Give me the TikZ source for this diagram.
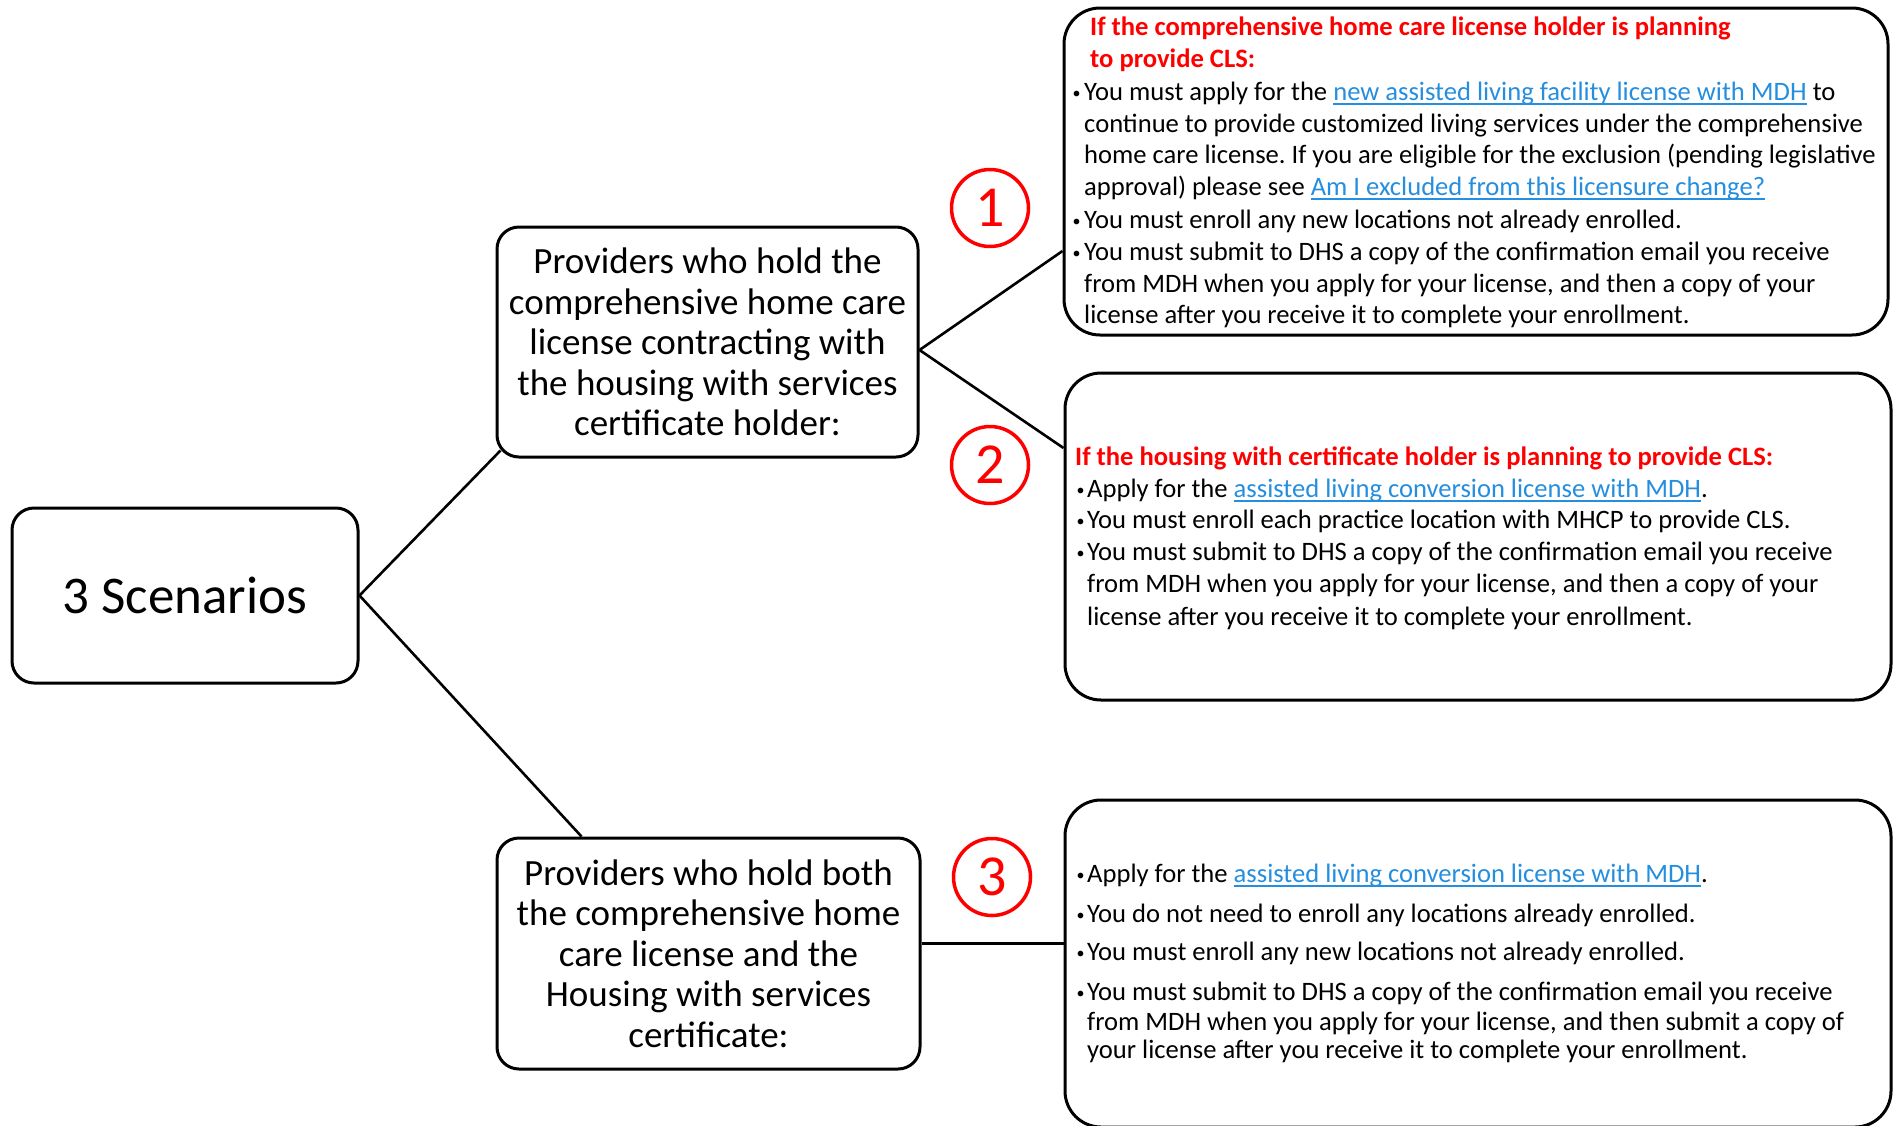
\documentclass[tikz,border=0pt]{standalone}
\usepackage{fontspec}
\setmainfont{Carlito}
\usetikzlibrary{calc}
\definecolor{linkblue}{RGB}{38,142,222}
\definecolor{redA}{RGB}{255,0,0}
\newsavebox{\lnkbox}
\newcommand{\lnk}[1]{{\color{linkblue}\sbox{\lnkbox}{#1}\rlap{\rule[-4.5pt]{\wd\lnkbox}{2pt}}\usebox{\lnkbox}}}
\newcommand{\bul}[1]{\makebox[#1][l]{\hspace{0.5pt}\raisebox{1.8pt}{\fontsize{16}{16}\selectfont •}}}
\frenchspacing
\begin{document}
\begin{tikzpicture}[x=1pt,y=-1pt,
  box/.style={draw, line width=3pt, rounded corners=22pt, inner sep=0pt, align=center},
  bigbox/.style={draw, line width=3pt, rounded corners=36pt, inner sep=0pt},
  conn/.style={line width=2.6pt},
  num/.style={circle, draw=redA, line width=3.5pt, minimum size=77pt, inner sep=0pt, text=redA, font=\fontsize{58}{58}\selectfont},
  ln/.style={anchor=base west, inner sep=0pt, font=\fontsize{26.6}{32}\selectfont},
  hdr/.style={ln, text=redA, font=\bfseries\fontsize{26.6}{32}\selectfont},
  ptxt/.style={font=\fontsize{37}{40.5}\selectfont}
]
\useasboundingbox (0,0) rectangle (1898,1125);

% left boxes
\node[box, minimum width=346pt, minimum height=175pt, font=\fontsize{53}{60}\selectfont] (S) at (185,595.5) {3 Scenarios};
\node[box, ptxt, minimum width=421pt, minimum height=230pt] (A) at (707.5,342)
  {Providers who hold the\\comprehensive home care\\license contracting with\\the housing with services\\certificate holder:};
\node[box, ptxt, minimum width=423pt, minimum height=231pt] (B) at (708.5,953.5)
  {Providers who hold both\\the comprehensive home\\care license and the\\Housing with services\\certificate:};

% right boxes
\node[bigbox, minimum width=824pt, minimum height=327pt] (R1) at (1476,171.5) {};
\node[bigbox, minimum width=826pt, minimum height=327pt] (R2) at (1478,536.5) {};
\node[bigbox, minimum width=826pt, minimum height=327pt] (R3) at (1478,963.5) {};

% numbers
\node[num] (n1) at (990,208) {1};
\node[num] (n2) at (990,465) {2};
\node[num] (n3) at (992,877) {3};

% connectors
\coordinate (Ahub) at ($(A.east)+(0,8)$);
\coordinate (Bhub) at ($(B.east)+(0,-10)$);
\draw[conn] (S.east) -- ($(A.south west)+(5,-8)$);
\draw[conn] (S.east) -- ($(B.north west)+(86,0)$);
\draw[conn] (Ahub) -- (R1.west |- 0,251);
\draw[conn] (Ahub) -- (R2.west |- 0,448);
\draw[conn] (Bhub) -- (R3.west |- Bhub);

% box 1 text
\node[hdr] (h1a) at (1090,35) {If the comprehensive home care license holder is planning};
\node[hdr] (h1b) at (1090,67) {to provide CLS:};
\node[ln] (l1a) at (1072,100) {\bul{12pt}You must apply for the \lnk{new assisted living facility license with MDH} to};
\node[ln] (l1b) at (1084,132) {continue to provide customized living services under the comprehensive};
\node[ln] (l1c) at (1084,163) {home care license. If you are eligible for the exclusion (pending legislative};
\node[ln] (l1d) at (1084,195) {approval) please see \lnk{Am I excluded from this licensure change?}};
\node[ln] (l1e) at (1072,228) {\bul{12pt}You must enroll any new locations not already enrolled.};
\node[ln] (l1f) at (1072,260) {\bul{12pt}You must submit to DHS a copy of the confirmation email you receive};
\node[ln] (l1g) at (1084,292) {from MDH when you apply for your license, and then a copy of your};
\node[ln] (l1h) at (1084,323) {license after you receive it to complete your enrollment.};

% box 2 text
\node[hdr] (h2a) at (1075,465) {If the housing with certificate holder is planning to provide CLS:};
\node[ln] (l2a) at (1076,497) {\bul{11pt}Apply for the \lnk{assisted living conversion license with MDH}.};
\node[ln] (l2b) at (1076,528) {\bul{11pt}You must enroll each practice location with MHCP to provide CLS.};
\node[ln] (l2c) at (1076,560) {\bul{11pt}You must submit to DHS a copy of the confirmation email you receive};
\node[ln] (l2d) at (1087,592) {from MDH when you apply for your license, and then a copy of your};
\node[ln] (l2e) at (1087,625) {license after you receive it to complete your enrollment.};

% box 3 text
\node[ln] (l3a) at (1076,882) {\bul{11pt}Apply for the \lnk{assisted living conversion license with MDH}.};
\node[ln] (l3b) at (1076,922) {\bul{11pt}You do not need to enroll any locations already enrolled.};
\node[ln] (l3c) at (1076,960) {\bul{11pt}You must enroll any new locations not already enrolled.};
\node[ln] (l3d) at (1076,1000) {\bul{11pt}You must submit to DHS a copy of the confirmation email you receive};
\node[ln] (l3e) at (1087,1030) {from MDH when you apply for your license, and then submit a copy of};
\node[ln] (l3f) at (1087,1058) {your license after you receive it to complete your enrollment.};
\end{tikzpicture}
\end{document}
